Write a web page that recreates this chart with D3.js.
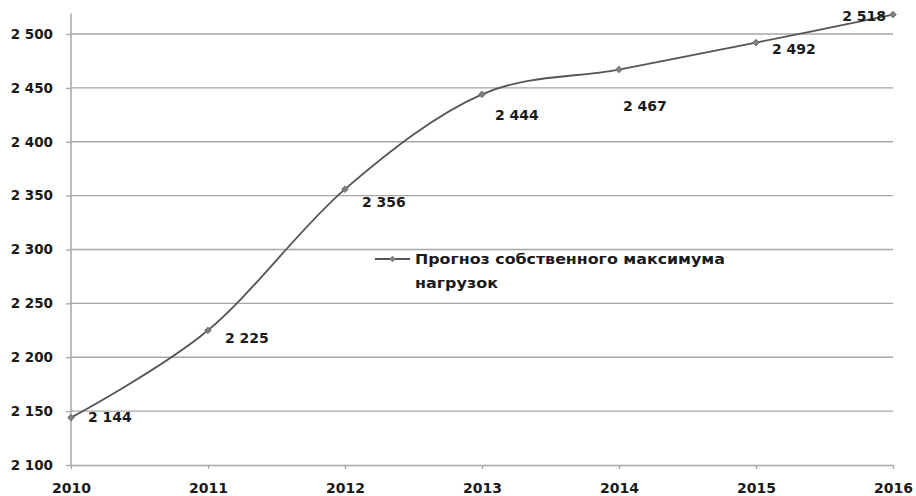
<!DOCTYPE html>
<html><head><meta charset="utf-8">
<script src="https://cdn.jsdelivr.net/npm/d3@7"></script>
<style>body{margin:0;background:#fff;}svg{display:block;}</style>
</head><body>
<svg id="chart" width="916" height="496"></svg>
<script>
const years = [2010, 2011, 2012, 2013, 2014, 2015, 2016];
const values = [2144, 2225, 2356, 2444, 2467, 2492, 2518];
const yTicks = [2100, 2150, 2200, 2250, 2300, 2350, 2400, 2450, 2500];
const seriesName = ["Прогноз собственного максимума", "нагрузок"];
// label offsets (layout only)
const labelOffsets = [[17,0,"start"],[17,8,"start"],[17,13,"start"],[13,21,"start"],[4,37,"start"],[16,6,"start"],[-7,1,"end"]];
const legendWidths = [310, 83];

const loc = d3.formatLocale({decimal:",", thousands:"\u00a0", grouping:[3], currency:["",""]});
const fmt = loc.format(",d");

const svg = d3.select("#chart");
const x = d3.scaleLinear().domain([2010, 2016]).range([71, 893]);
const y = d3.scaleLinear().domain([2100, 2500]).range([465, 34]);
const font = "'DejaVu Sans', Verdana, sans-serif";
const gridC = "#a6a6a6";
const textC = "#1a1a1a";

// gridlines
svg.append("g").selectAll("line").data(yTicks.slice(1)).join("line")
  .attr("x1", x(2010)).attr("x2", x(2016))
  .attr("y1", d => y(d)).attr("y2", d => y(d))
  .attr("stroke", gridC).attr("stroke-width", 1.3);

// y axis
const ya = svg.append("g").attr("transform", `translate(${x(2010)},0)`)
  .call(d3.axisLeft(y).tickValues(yTicks).tickFormat(fmt).tickSize(5).tickPadding(13));
ya.select(".domain").remove();
ya.selectAll(".tick line").attr("stroke", gridC).attr("stroke-width", 1.3);
ya.selectAll(".tick text").attr("font-family", font).attr("font-size", 13.5).attr("font-weight", "bold").attr("fill", textC);
svg.append("line").attr("x1", x(2010)).attr("x2", x(2010))
  .attr("y1", y(2100)).attr("y2", y(d3.max(values)) - 1)
  .attr("stroke", gridC).attr("stroke-width", 1.5);

// x axis
const xa = svg.append("g").attr("transform", `translate(0,${y(2100)})`)
  .call(d3.axisBottom(x).tickValues(years).tickFormat(d3.format("d")).tickSize(4).tickPadding(14).tickSizeOuter(0));
xa.select(".domain").attr("stroke", gridC).attr("stroke-width", 1.3);
xa.selectAll(".tick line").attr("stroke", gridC).attr("stroke-width", 1.3);
xa.selectAll(".tick text").attr("font-family", font).attr("font-size", 14).attr("font-weight", "bold").attr("fill", textC);

// line
const pts = years.map((yr, i) => [yr, values[i]]);
const line = d3.line().x(d => x(d[0])).y(d => y(d[1])).curve(d3.curveCardinal.tension(0));
svg.append("path").datum(pts).attr("d", line)
  .attr("fill", "none").attr("stroke", "#555").attr("stroke-width", 1.8);

const marker = d3.symbol().type(d3.symbolSquare).size(22);
svg.append("g").selectAll("path").data(pts).join("path")
  .attr("transform", d => `translate(${x(d[0])},${y(d[1])}) rotate(45)`)
  .attr("d", marker).attr("fill", "#7f7f7f").attr("stroke", "#6a6a6a").attr("stroke-width", 0.8);

// data labels
svg.append("g").selectAll("text").data(pts).join("text")
  .attr("x", (d, i) => x(d[0]) + labelOffsets[i][0])
  .attr("y", (d, i) => y(d[1]) + labelOffsets[i][1])
  .attr("dy", "0.35em")
  .attr("text-anchor", (d, i) => labelOffsets[i][2])
  .attr("font-family", font).attr("font-size", 14).attr("font-weight", "bold").attr("fill", textC)
  .text(d => fmt(d[1]));

// legend
const lg = svg.append("g").attr("transform", "translate(375,259)");
lg.append("line").attr("x1", 0).attr("x2", 35).attr("y1", 0).attr("y2", 0).attr("stroke", "#555").attr("stroke-width", 1.8);
lg.append("path").attr("transform", "translate(17.5,0) rotate(45)").attr("d", marker).attr("fill", "#7f7f7f");
lg.selectAll("text").data(seriesName).join("text")
  .attr("x", 40).attr("y", (d, i) => i * 24).attr("dy", "0.35em")
  .attr("textLength", (d, i) => legendWidths[i]).attr("lengthAdjust", "spacingAndGlyphs")
  .attr("font-family", font).attr("font-size", 14.5).attr("font-weight", "bold").attr("fill", textC)
  .text(d => d);
</script>
</body></html>
